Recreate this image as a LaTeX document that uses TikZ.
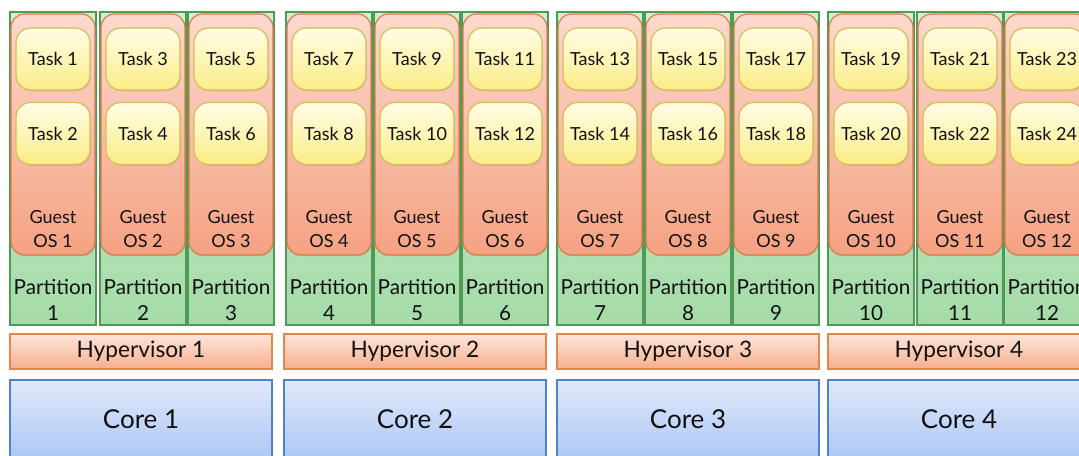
\documentclass[tikz,border=0pt]{standalone}
\usepackage{fontspec}
\setmainfont{Lato}
\usetikzlibrary{shadows}
\definecolor{partTop}{HTML}{D2EFD4}
\definecolor{partBot}{HTML}{A4DBA8}
\definecolor{partLine}{HTML}{4E9A56}
\definecolor{guestTop}{HTML}{FCD9CD}
\definecolor{guestBot}{HTML}{F5A282}
\definecolor{guestLine}{HTML}{DD7A45}
\definecolor{taskTop}{HTML}{FFFDE6}
\definecolor{taskBot}{HTML}{FBEC86}
\definecolor{taskLine}{HTML}{D6BE55}
\definecolor{hypTop}{HTML}{FDE6DA}
\definecolor{hypBot}{HTML}{F6AE8C}
\definecolor{hypLine}{HTML}{E0894F}
\definecolor{coreTop}{HTML}{E0E9FB}
\definecolor{coreBot}{HTML}{A6C2F3}
\definecolor{coreLine}{HTML}{4F82C8}
\definecolor{txt}{HTML}{111111}
\tikzset{
  shad/.style={drop shadow={opacity=0.22, shadow xshift=0.8pt, shadow yshift=-1pt}},
  partbox/.style={draw=partLine, line width=0.9pt, top color=partTop, bottom color=partBot,
    minimum width=64.5pt, minimum height=234.75pt, inner sep=0pt, shad},
  guestbox/.style={draw=guestLine, line width=0.9pt, top color=guestTop, bottom color=guestBot,
    rounded corners=10pt, minimum width=63pt, minimum height=180.75pt, inner sep=0pt, shad},
  taskbox/.style={draw=taskLine, line width=0.9pt, top color=taskTop, bottom color=taskBot,
    rounded corners=11pt, minimum width=55.5pt, minimum height=46.5pt, inner sep=0pt,
    font=\fontsize{13.5}{15}\selectfont, text=txt, shad},
  guesttext/.style={align=center, inner sep=0pt, text=txt, font=\fontsize{13.5}{17.5}\selectfont},
  parttext/.style={align=center, inner sep=0pt, text=txt, font=\fontsize{15.5}{20}\selectfont},
  hypbox/.style={draw=hypLine, line width=0.9pt, top color=hypTop, bottom color=hypBot,
    minimum width=196.5pt, minimum height=26.25pt, inner sep=0pt, text=txt,
    font=\fontsize{17}{19}\selectfont, shad},
  corebox/.style={draw=coreLine, line width=0.9pt, top color=coreTop, bottom color=coreBot,
    minimum width=196.5pt, minimum height=67.5pt, inner sep=0pt},
  coretext/.style={text=txt, font=\fontsize{19.5}{22}\selectfont, inner sep=0pt},
}
\begin{document}
\begin{tikzpicture}[x=0.75pt,y=-0.75pt]
\clip (0,0) rectangle (1079,455);
\fill[white] (0,0) rectangle (1079,455);
\foreach \L [count=\i] in {10,100,188,286,374,462,557,645,733,828,917,1004} {
  \pgfmathtruncatemacro\ta{2*\i-1}
  \pgfmathtruncatemacro\tb{2*\i}
  \node[partbox] (p\i) at (\L+43,168.5) {};
  \node[guestbox] (g\i) at (\L+43,134.5) {};
  \node[taskbox] (t\ta) at (\L+43,59) {Task \ta};
  \node[taskbox] (t\tb) at (\L+43,133.5) {Task \tb};
  \node[guesttext] (gl\i) at (\L+43,229) {Guest\\OS \i};
  \node[parttext] (pl\i) at (\L+43,300) {Partition\\\i};
}
\foreach \G [count=\k] in {10,284,557,828} {
  \node[hypbox] (h\k) at (\G+131,351.5) {Hypervisor \k};
  \node[corebox] (c\k) at (\G+131,425) {};
  \node[coretext] (cl\k) at (\G+131,419) {Core \k};
}
\end{tikzpicture}
\end{document}
